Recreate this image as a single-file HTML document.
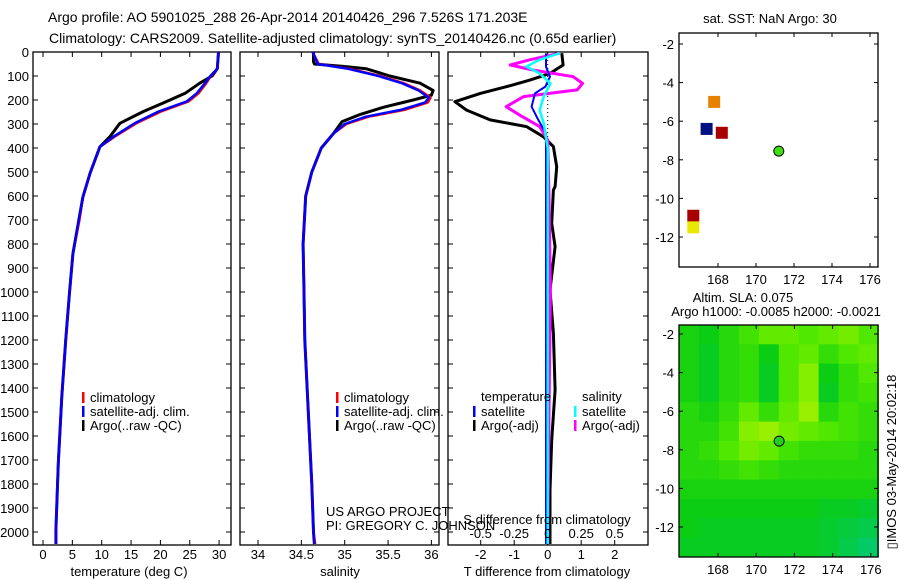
<!DOCTYPE html>
<html><head><meta charset="utf-8"><style>
html,body{margin:0;padding:0;background:#fff;}
svg{display:block;font-family:"Liberation Sans",sans-serif;}
text{font-size:13px;fill:#000;}
</style></head><body>
<svg id="fig" width="900" height="580" xmlns="http://www.w3.org/2000/svg">
<text x="48" y="22" style="font-size:14px">Argo profile: AO 5901025_288 26-Apr-2014 20140426_296 7.526S 171.203E</text>
<text x="49" y="43" style="font-size:14px">Climatology: CARS2009. Satellite-adjusted climatology: synTS_20140426.nc (0.65d earlier)</text>
<g id="g1"></g>
<g id="g2"></g>
<g id="g3"></g>
<g id="m1"></g>
<g id="m2"></g>
<text x="770" y="23" text-anchor="middle">sat. SST: NaN Argo: 30</text>
<text x="743" y="302" text-anchor="middle">Altim. SLA: 0.075</text>
<text x="776" y="316" text-anchor="middle">Argo h1000: -0.0085 h2000: -0.0021</text>
<text transform="translate(896,462) rotate(-90)" text-anchor="middle">▯IMOS 03-May-2014 20:02:18</text>
</svg>
<script>
// ---- data ----
const tArgoDepth = [0,70,100,130,172,206,248,297,353,395,506,604,701,841,1008,1190,1436,1713,1992,2050];
const tArgo = [29.9,29.7,28.8,26.7,24.2,21.1,17.1,13.1,11.4,9.7,8.0,6.8,6.1,5.1,4.5,3.9,3.2,2.6,2.2,2.2];
const tClimDepth = [0,70,100,130,172,206,248,297,353,395,506,604,701,841,1008,1190,1436,1713,1992,2050];
const tClim = [29.9,29.7,28.6,27.8,26.5,24.8,20.1,15.9,12.2,9.7,8.0,6.8,6.2,5.1,4.5,3.9,3.2,2.6,2.2,2.2];
const tSat = [29.9,29.7,28.5,27.6,26.2,24.5,19.7,15.6,12.0,9.7,8.0,6.8,6.1,5.1,4.5,3.9,3.2,2.6,2.2,2.2];
const sArgoDepth = [0,40,50,60,70,100,130,160,180,200,230,260,290,340,400,500,600,800,1000,1200,1500,1800,2000,2050];
const sArgo = [34.64,34.64,34.65,34.98,35.25,35.52,35.87,36.02,36.0,35.79,35.45,35.18,34.97,34.87,34.73,34.62,34.55,34.52,34.53,34.54,34.58,34.62,34.64,34.65];
const sClimDepth = [0,50,70,100,130,160,190,210,240,270,300,340,400,500,600,800,1000,1200,1500,1800,2000,2050];
const sClim = [34.63,34.70,35.06,35.41,35.68,35.87,35.99,35.96,35.70,35.27,35.02,34.87,34.73,34.62,34.55,34.52,34.53,34.54,34.58,34.62,34.64,34.66];
const sSat = [34.63,34.69,35.04,35.39,35.66,35.85,35.97,35.93,35.66,35.24,35.00,34.87,34.73,34.62,34.55,34.52,34.53,34.54,34.58,34.62,34.64,34.65];
const dTDepth = [5,54,89,117,144,172,207,242,283,311,353,394,478,561,575,714,811,992,1172,1408,1617,1825,1964,2050];
const dTArgo = [0.42,0.46,0.07,-0.53,-1.22,-2.0,-2.77,-2.42,-1.72,-0.63,-0.13,0.17,0.27,0.22,0.17,0.12,0.22,0.07,0.17,0.22,0.12,0.07,0.07,0.07];
const dSDepth = [5,32,54,75,103,131,158,186,228,269,311,367,600,1000,1500,2050];
const dSArgo = [0.09,-0.13,-0.28,-0.11,0.19,0.26,0.22,-0.18,-0.31,-0.19,-0.06,0.0,0.01,0.02,0.01,0.0];
const dTSatDepth = [5,61,103,144,172,228,283,339,800,1500,2050];
const dTSat = [-0.05,-0.05,0.07,-0.07,-0.38,-0.48,-0.28,-0.05,-0.05,-0.05,-0.05];
const dSSatDepth = [5,32,61,89,131,186,242,297,400,1000,2050];
const dSSat = [0.09,-0.06,-0.16,-0.06,0.02,-0.03,-0.06,-0.03,0.0,0.0,0.0];
const depthTicks = [0,100,200,300,400,500,600,700,800,900,1000,1100,1200,1300,1400,1500,1600,1700,1800,1900,2000];
const tTicks = [0,5,10,15,20,25,30];
const sTicks = ["34","34.5","35","35.5","36"];
const dTTicks = ["-2","-1","0","1","2"];
const dSTicks = ["-0.5","-0.25","0","0.25","0.5"];
const lonTicks = [168,170,172,174,176];
const latTicks = [-2,-4,-6,-8,-10,-12];
const floatLon = [167.8,167.4,168.2,166.7,166.7];
const floatLat = [-5.0,-6.4,-6.6,-10.9,-11.5];
const floatColor = ["#e88000","#001080","#a80000","#a80000","#e8e800"];
const argoLon = 171.2, argoLat = -7.55;
const slaGrid = [
[.45,.4,.5,.6,.7,.7,.65,.7,.75,.65],
[.45,.35,.5,.55,.4,.65,.7,.55,.65,.7],
[.45,.35,.5,.55,.35,.65,.8,.4,.55,.65],
[.45,.35,.5,.55,.35,.65,.8,.35,.55,.6],
[.5,.45,.55,.7,.55,.7,.85,.5,.6,.55],
[.5,.5,.6,.8,.85,.75,.7,.65,.6,.55],
[.5,.55,.65,.75,.7,.6,.55,.55,.55,.5],
[.5,.5,.55,.6,.55,.5,.5,.5,.5,.5],
[.45,.45,.45,.45,.45,.45,.45,.45,.45,.45],
[.4,.4,.4,.4,.4,.4,.4,.35,.35,.3],
[.4,.35,.35,.35,.35,.35,.35,.3,.25,.2],
[.35,.35,.35,.35,.35,.35,.35,.3,.2,.1]];

const NS="http://www.w3.org/2000/svg";
function mk(p,tag,a){const e=document.createElementNS(NS,tag);for(const k in a)e.setAttribute(k,a[k]);p.appendChild(e);return e;}
const Y0=52, YB=545;
const yD=d=>Y0+d*0.24;
const xT=t=>43+t*5.87;
const xS=s=>258+(s-34)*86.7;
const xDT=v=>547.7+v*33.5;
const xDS=v=>547.7+v*134;

function panel(g,x0,x1,name){
  const r=mk(g,'rect',{x:x0,y:Y0,width:x1-x0,height:YB-Y0,fill:'none',stroke:'#000','stroke-width':1.3});
  
  
  depthTicks.forEach(d=>{
    mk(g,'line',{x1:x0,x2:x0+5,y1:yD(d),y2:yD(d),stroke:'#000'});
    mk(g,'line',{x1:x1-5,x2:x1,y1:yD(d),y2:yD(d),stroke:'#000'});
  });
}
function line(g,xs,ds,fx,col,w,name){
  const pts=xs.map((v,i)=>fx(v).toFixed(1)+','+yD(ds[i]).toFixed(1)).join(' ');
  const p=mk(g,'polyline',{points:pts,fill:'none',stroke:col,'stroke-width':w,'stroke-linejoin':'round'});
  
  
}
function xticks(g,vals,fx,x0,x1,ly){
  vals.forEach(v=>{const x=fx(parseFloat(v));
    mk(g,'line',{x1:x,x2:x,y1:Y0,y2:Y0+5,stroke:'#000'});
    mk(g,'line',{x1:x,x2:x,y1:YB-5,y2:YB,stroke:'#000'});
    if(ly){const t=mk(g,'text',{x:x,y:ly,'text-anchor':'middle'});t.textContent=v;
      
      }
  });
}
function legend(g,x,y,col,label){
  mk(g,'rect',{x:x,y:y-10,width:2.5,height:11,fill:col});
  const t=mk(g,'text',{x:x+8,y:y});t.textContent=label;
  
  
}
const g1=document.getElementById('g1'),g2=document.getElementById('g2'),g3=document.getElementById('g3');
panel(g1,33,231,'temperature-panel');
depthTicks.forEach(d=>{const t=mk(g1,'text',{x:29,y:yD(d)+5,'text-anchor':'end'});t.textContent=d;
  
  });
xticks(g1,tTicks,xT,33,231,559);
line(g1,tArgo,tArgoDepth,xT,'#000',3,'argo-temperature-line');
line(g1,tClim,tClimDepth,xT,'#f00',2.5,'climatology-temperature-line');
line(g1,tSat,tClimDepth,xT,'#00f',2.5,'satellite-temperature-line');
let at=mk(g1,'text',{x:129,y:576,'text-anchor':'middle'});at.textContent='temperature (deg C)';


legend(g1,82,402,'#f00','climatology');legend(g1,82,416,'#00f','satellite-adj. clim.');legend(g1,82,430,'#000','Argo(..raw -QC)');
panel(g2,240,439,'salinity-panel');
xticks(g2,sTicks,xS,240,439,559);
line(g2,sArgo,sArgoDepth,xS,'#000',3,'argo-salinity-line');
line(g2,sClim,sClimDepth,xS,'#f00',2.5,'climatology-salinity-line');
line(g2,sSat,sClimDepth,xS,'#00f',2.5,'satellite-salinity-line');
at=mk(g2,'text',{x:340,y:576,'text-anchor':'middle'});at.textContent='salinity';


legend(g2,336,402,'#f00','climatology');legend(g2,336,416,'#00f','satellite-adj. clim.');legend(g2,336,430,'#000','Argo(..raw -QC)');
panel(g3,448,648,'difference-panel');
xticks(g3,dTTicks,xDT,448,648,559);
mk(g3,'line',{x1:xDT(0),x2:xDT(0),y1:Y0,y2:YB,stroke:'#000','stroke-dasharray':'1,3'});
line(g3,dTArgo,dTDepth,xDT,'#000',3,'argo-t-difference-line');
line(g3,dSArgo,dSDepth,xDS,'#f0f',3,'argo-s-difference-line');
line(g3,dTSat,dTSatDepth,xDT,'#00f',2,'satellite-t-difference-line');
line(g3,dSSat,dSSatDepth,xDS,'#0ff',2.5,'satellite-s-difference-line');
dSTicks.forEach(v=>{const t=mk(g3,'text',{x:xDS(parseFloat(v)),y:538,'text-anchor':'middle'});t.textContent=v;
  
  });
at=mk(g3,'text',{x:547,y:524,'text-anchor':'middle'});at.textContent='S difference from climatology';


at=mk(g3,'text',{x:547,y:576,'text-anchor':'middle'});at.textContent='T difference from climatology';


at=mk(g3,'text',{x:481,y:401});at.textContent='temperature';


at=mk(g3,'text',{x:582,y:401});at.textContent='salinity';


legend(g3,473,416,'#00f','satellite');legend(g3,473,430,'#000','Argo(-adj)');
legend(g3,574,416,'#0ff','satellite');legend(g3,574,430,'#f0f','Argo(-adj)');
at=mk(g2,'text',{x:326,y:516});at.textContent='US ARGO PROJECT';


at=mk(g2,'text',{x:326,y:530});at.textContent='PI: GREGORY C. JOHNSON';



function mapAxes(g,x0,y0,x1,y1,fx,fy,name){
  const r=mk(g,'rect',{x:x0,y:y0,width:x1-x0,height:y1-y0,fill:'none',stroke:'#000','stroke-width':1.3});
  
  
  lonTicks.forEach(l=>{const x=fx(l);
    mk(g,'line',{x1:x,x2:x,y1:y0,y2:y0+4,stroke:'#000'});mk(g,'line',{x1:x,x2:x,y1:y1-4,y2:y1,stroke:'#000'});
    const t=mk(g,'text',{x:x,y:y1+17,'text-anchor':'middle'});t.textContent=l;
    
    });
  latTicks.forEach(l=>{const y=fy(l);
    mk(g,'line',{x1:x0,x2:x0+4,y1:y,y2:y,stroke:'#000'});mk(g,'line',{x1:x1-4,x2:x1,y1:y,y2:y,stroke:'#000'});
    const t=mk(g,'text',{x:x0-5,y:y+5,'text-anchor':'end'});t.textContent=l;
    
    });
}
const m1=document.getElementById('m1'),m2=document.getElementById('m2');
const mx1=l=>718+(l-168)*19.0, my1=l=>44+(-2-l)*19.3;
floatLon.forEach((l,i)=>{
  const r=mk(m1,'rect',{x:mx1(l)-6,y:my1(floatLat[i])-6,width:12,height:12,fill:floatColor[i]});
  
  
});
let c=mk(m1,'circle',{cx:mx1(argoLon),cy:my1(argoLat),r:5,fill:'#40e010',stroke:'#000','stroke-width':1});


mapAxes(m1,679,33,878,267,mx1,my1,'sst-map');

const mx2=l=>718+(l-168)*19.1, my2=l=>334+(-2-l)*19.3;
function col(v){
  const stops=[[0,[0,200,130]],[0.4,[10,205,20]],[0.65,[80,232,0]],[0.9,[170,242,0]],[1,[185,248,0]]];
  for(let i=1;i<stops.length;i++){if(v<=stops[i][0]){const a=stops[i-1],b=stops[i],f=(v-a[0])/(b[0]-a[0]);
    return 'rgb('+a[1].map((c,k)=>Math.round(c+(b[1][k]-c)*f)).join(',')+')';}}
  return 'rgb(185,248,0)';
}
const lon0=165.96, lon1=176.4, lat0=-1.53, lat1=-13.55;
const nr=slaGrid.length, nc=slaGrid[0].length;
const dlon=(lon1-lon0)/nc, dlat=(lat0-lat1)/nr;
slaGrid.forEach((row,i)=>row.forEach((v,j)=>{
  const xa=mx2(lon0+j*dlon), ya=my2(lat0-i*dlat);
  const r=mk(m2,'rect',{x:xa,y:ya,width:mx2(lon0+(j+1)*dlon)-xa+0.5,height:my2(lat0-(i+1)*dlat)-ya+0.5,fill:col(v)});
  
  
}));
c=mk(m2,'circle',{cx:mx2(argoLon),cy:my2(argoLat),r:5,fill:'#20d020',stroke:'#000','stroke-width':1});


mapAxes(m2,679,325,878,557,mx2,my2,'sla-map');
</script>
</body></html>
